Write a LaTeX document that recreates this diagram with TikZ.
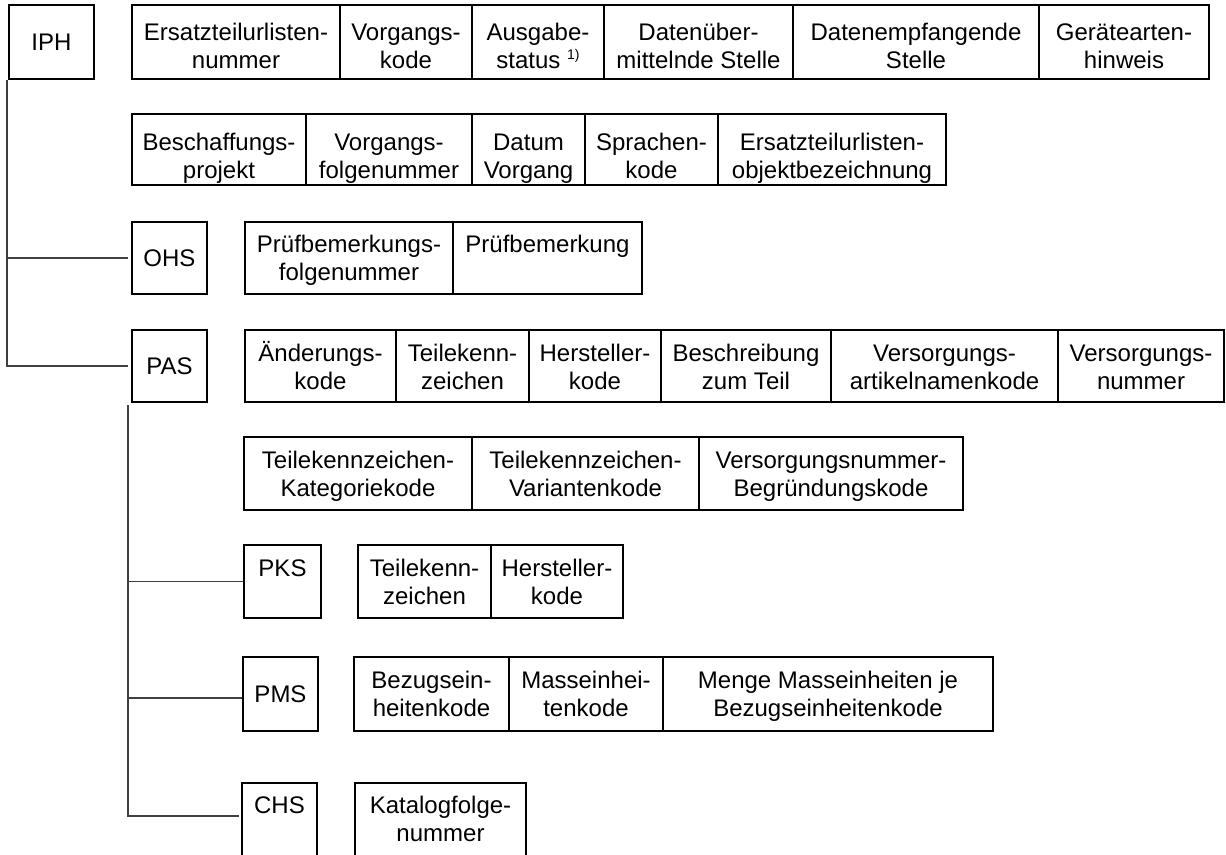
\documentclass[tikz,border=0pt]{standalone}
\usepackage{fontspec}
\setmainfont{Liberation Sans}
\tikzset{
  cellbox/.style={draw=black, line width=2pt, rectangle, inner sep=0pt},
  celltxt/.style={inner sep=0pt, align=center, font=\fontsize{24}{28}\selectfont},
  lbl/.style={draw=black, line width=2pt, rectangle, inner sep=0pt, font=\fontsize{24}{28}\selectfont},
  conn/.style={draw=black!75, line width=1.3pt}
}
% name, x1, x2, ytop, ybot, yshift, text
\newcommand\cellbox[7]{%
  \node[cellbox, minimum width={(#3-#2)*1pt}, minimum height={(#5-#4)*1pt}] (#1) at ({(#2+#3)/2},{(#4+#5)/2}) {};
  \node[celltxt, anchor=north] at ([yshift=#6pt]#1.north) {\rule{0pt}{24pt}#7};}
% name, x1, x2, ytop, ybot, text (centred)
\newcommand\lblbox[6]{%
  \node[lbl, minimum width={(#3-#2)*1pt}, minimum height={(#5-#4)*1pt}] (#1) at ({(#2+#3)/2},{(#4+#5)/2}) {#6};}
\begin{document}
\begin{tikzpicture}[x=1pt,y=-1pt]
\useasboundingbox (0,0) rectangle (1226,854);
\clip (0,0) rectangle (1226,854);
\fill[white] (0,0) rectangle (1226,854);

% main record boxes
\lblbox{iph}{9}{94}{5}{79}{IPH}
\lblbox{ohs}{132}{207}{222}{294}{OHS}
\lblbox{pas}{132}{207}{330}{402}{PAS}
\cellbox{pks}{244}{321}{545}{618}{-8}{PKS}
\lblbox{pms}{243}{318}{657}{731}{PMS}
\cellbox{chs}{242}{317}{783}{880}{-7}{CHS}

% IPH row 1
\cellbox{a1}{132}{340}{5}{79}{-12}{Ersatzteilurlisten-\\nummer}
\cellbox{a2}{340}{472}{5}{79}{-12}{Vorgangs-\\kode}
\cellbox{a3}{472}{604}{5}{79}{-12}{Ausgabe-\\status \raisebox{9pt}{\fontsize{14}{14}\selectfont 1)}}
\cellbox{a4}{604}{793}{5}{79}{-12}{Datenüber-\\mittelnde Stelle}
\cellbox{a5}{793}{1039}{5}{79}{-12}{Datenempfangende\\Stelle}
\cellbox{a6}{1039}{1209}{5}{79}{-12}{Gerätearten-\\hinweis}

% IPH row 2
\cellbox{b1}{132}{306}{114}{185}{-13}{Beschaffungs-\\projekt}
\cellbox{b2}{306}{472}{114}{185}{-13}{Vorgangs-\\folgenummer}
\cellbox{b3}{472}{585}{114}{185}{-13}{Datum\\Vorgang}
\cellbox{b4}{585}{718}{114}{185}{-13}{Sprachen-\\kode}
\cellbox{b5}{718}{946}{114}{185}{-13}{Ersatzteilurlisten-\\objektbezeichnung}

% OHS fields
\cellbox{c1}{245}{453}{222}{294}{-7}{Prüfbemerkungs-\\folgenummer}
\cellbox{c2}{453}{642}{222}{294}{-7}{Prüfbemerkung}

% PAS fields
\cellbox{d1}{245}{396}{330}{402}{-8}{Änderungs-\\kode}
\cellbox{d2}{396}{529}{330}{402}{-8}{Teilekenn-\\zeichen}
\cellbox{d3}{529}{661}{330}{402}{-8}{Hersteller-\\kode}
\cellbox{d4}{661}{831}{330}{402}{-8}{Beschreibung\\zum Teil}
\cellbox{d5}{831}{1058}{330}{402}{-8}{Versorgungs-\\artikelnamenkode}
\cellbox{d6}{1058}{1224}{330}{402}{-8}{Versorgungs-\\nummer}

\cellbox{e1}{244}{472}{437}{510}{-8}{Teilekennzeichen-\\Kategoriekode}
\cellbox{e2}{472}{699}{437}{510}{-8}{Teilekennzeichen-\\Variantenkode}
\cellbox{e3}{699}{963}{437}{510}{-8}{Versorgungsnummer-\\Begründungskode}

% PKS fields
\cellbox{f1}{358}{491}{545}{618}{-8}{Teilekenn-\\zeichen}
\cellbox{f2}{491}{623}{545}{618}{-8}{Hersteller-\\kode}

% PMS fields
\cellbox{g1}{354}{509}{657}{731}{-8}{Bezugsein-\\heitenkode}
\cellbox{g2}{509}{663}{657}{731}{-8}{Masseinhei-\\tenkode}
\cellbox{g3}{663}{993}{657}{731}{-8}{Menge Masseinheiten je\\Bezugseinheitenkode}

% CHS fields
\cellbox{h1}{355}{526}{783}{880}{-7}{Katalogfolge-\\nummer}

% connectors
\coordinate (iphv) at ([xshift=-1pt]iph.south west);
\coordinate (ohsin) at ([xshift=-3pt]ohs.west);
\coordinate (pasin) at ([xshift=-3pt]pas.west);
\draw[conn] (iphv) -- (iphv |- pasin) -- (pasin);
\draw[conn] (iphv |- ohsin) -- (ohsin);

\coordinate (pasv) at ([xshift=-3pt,yshift=-2pt]pas.south west);
\coordinate (chsin) at ([yshift=-34pt,xshift=-2pt]chs.north west);
\coordinate (pmsin) at ([yshift=-4pt]pms.west);
\draw[conn] (pasv) -- (pasv |- chsin) -- (chsin);
\draw[conn] (pasv |- pks.west) -- (pks.west);
\draw[conn] (pasv |- pmsin) -- (pmsin);
\end{tikzpicture}
\end{document}
